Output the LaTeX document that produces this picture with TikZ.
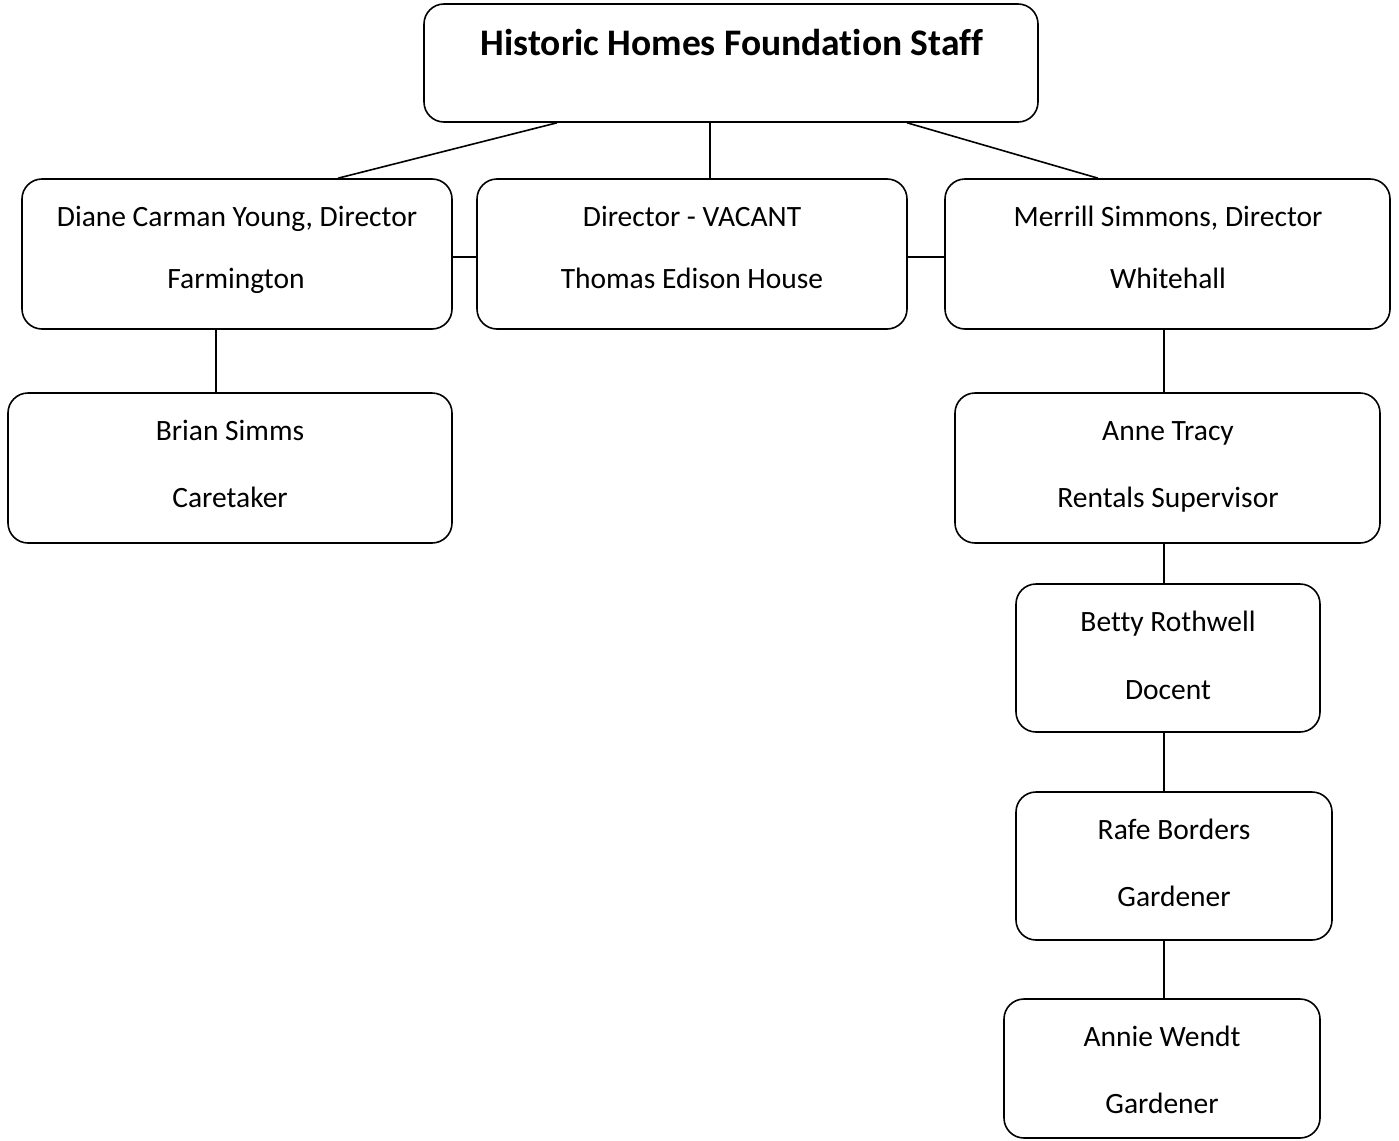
\documentclass[tikz,border=0pt]{standalone}
\usepackage{fontspec}
\setmainfont{Carlito}[Ligatures={NoCommon}]
\begin{document}
\begin{tikzpicture}[x=1pt,y=-1pt,
  orgbox/.style={draw=black,line width=1.6pt,rounded corners=20pt,fill=white},
  txt/.style={font=\fontsize{29.5}{34}\selectfont,inner sep=0pt,anchor=base},
  ttl/.style={font=\fontsize{37.5}{42}\selectfont\bfseries,inner sep=0pt,anchor=base},
  conn/.style={draw=black,line width=1.6pt}]
\useasboundingbox (0,0) rectangle (1399,1140);
% boxes
\node[orgbox,minimum width=614pt,minimum height=118pt] (top) at (731,63) {};
\node[orgbox,minimum width=430pt,minimum height=150pt] (diane) at (237,254) {};
\node[orgbox,minimum width=430pt,minimum height=150pt] (vac) at (692,254) {};
\node[orgbox,minimum width=445pt,minimum height=150pt] (merrill) at (1167.5,254) {};
\node[orgbox,minimum width=444pt,minimum height=150pt] (brian) at (230,468) {};
\node[orgbox,minimum width=425pt,minimum height=150pt] (anne) at (1167.5,468) {};
\node[orgbox,minimum width=304pt,minimum height=148pt] (betty) at (1168,658) {};
\node[orgbox,minimum width=316pt,minimum height=148pt] (rafe) at (1174,866) {};
\node[orgbox,minimum width=316pt,minimum height=139pt] (annie) at (1162,1068.5) {};
% texts
\node[ttl] (toptxt) at (732,56) {Historic Homes Foundation Staff};
\node[txt] (d1) at (237,226) {Diane Carman Young, Director};
\node[txt] (d2) at (236,288) {Farmington};
\node[txt] (v1) at (692,226) {Director - VACANT};
\node[txt] (v2) at (692,288) {Thomas Edison House};
\node[txt] (m1) at (1168,226) {Merrill Simmons, Director};
\node[txt] (m2) at (1168,288) {Whitehall};
\node[txt] (b1) at (230,440) {Brian Simms};
\node[txt] (b2) at (230,507) {Caretaker};
\node[txt] (a1) at (1168,440) {Anne Tracy};
\node[txt] (a2) at (1168,507) {Rentals Supervisor};
\node[txt] (e1) at (1168,631) {Betty Rothwell};
\node[txt] (e2) at (1168,699) {Docent};
\node[txt] (r1) at (1174,839) {Rafe Borders};
\node[txt] (r2) at (1174,906) {Gardener};
\node[txt] (w1) at (1162,1046) {Annie Wendt};
\node[txt] (w2) at (1162,1113) {Gardener};
% connectors
\draw[conn] ([xshift=-174pt]top.south) -- ([xshift=101pt]diane.north);
\draw[conn] ([xshift=-21pt]top.south) -- ([xshift=18pt]vac.north);
\draw[conn] ([xshift=176pt]top.south) -- ([xshift=-69.5pt]merrill.north);
\draw[conn] ([yshift=-3pt]diane.east) -- ([yshift=-3pt]vac.west);
\draw[conn] ([yshift=-3pt]vac.east) -- ([yshift=-3pt]merrill.west);
\draw[conn] ([xshift=-21pt]diane.south) -- ([xshift=-14pt]brian.north);
\draw[conn] ([xshift=-3.5pt]merrill.south) -- ([xshift=-3.5pt]anne.north);
\draw[conn] ([xshift=-3.5pt]anne.south) -- ([xshift=-4pt]betty.north);
\draw[conn] ([xshift=-4pt]betty.south) -- ([xshift=-10pt]rafe.north);
\draw[conn] ([xshift=-10pt]rafe.south) -- ([xshift=2pt]annie.north);
\end{tikzpicture}
\end{document}
